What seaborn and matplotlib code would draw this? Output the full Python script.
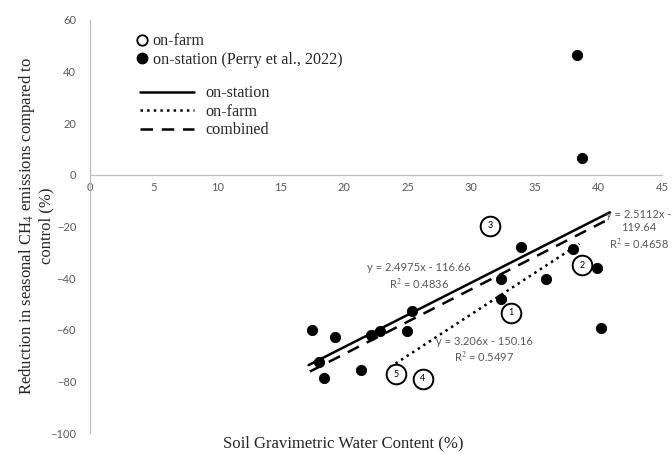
import matplotlib
matplotlib.use("Agg")
import matplotlib.pyplot as plt
import seaborn as sns
import numpy as np
import pandas as pd
from matplotlib.lines import Line2D

# on-station points (Perry et al., 2022)
station_x = [17.5, 18.0, 18.4, 19.3, 21.3, 22.1, 22.8, 24.9, 25.3, 32.3, 32.3,
             33.9, 35.9, 38.0, 38.3, 38.7, 39.9, 40.2]
station_y = [-60.0, -72.6, -78.8, -62.7, -75.7, -62.0, -60.3, -60.3, -52.6, -40.4,
             -47.9, -27.8, -40.3, -28.8, 46.5, 6.6, -36.2, -59.4]

# on-farm sites
farm_id = ["1", "2", "3", "4", "5"]
farm_x = [33.1, 38.7, 31.5, 26.2, 24.1]
farm_y = [-53.4, -35.0, -19.8, -79.0, -77.3]

# trendlines: name, slope, intercept, x start, x end, style
fit_names = ["on-station", "on-farm", "combined"]
fit_slope = [2.4975, 3.206, 2.5112]
fit_icpt = [-116.66, -150.16, -119.64]
fit_x0 = [17.2, 23.6, 17.3]
fit_x1 = [40.9, 38.5, 40.5]
fit_style = ["-", ":", (0, (5, 3.5))]

sns.set_style("white")
plt.rcParams["font.family"] = ["Liberation Serif", "DejaVu Serif"]
plt.rcParams["mathtext.fontset"] = "stix"

fig = plt.figure(figsize=(6.72, 4.54), dpi=100)
ax = fig.add_axes([90 / 672, 1 - 433 / 454, 572 / 672, 413 / 454])

grey = "#595959"
axis_grey = "#bfbfbf"

for xs0, xs1, m, b, ls in zip(fit_x0, fit_x1, fit_slope, fit_icpt, fit_style):
    xs = np.array([xs0, xs1])
    ax.plot(xs, m * xs + b, color="black", lw=1.8, linestyle=ls, zorder=2)

st = pd.DataFrame({"x": station_x, "y": station_y})
sns.scatterplot(data=st, x="x", y="y", ax=ax, color="black", s=55,
                edgecolor="black", zorder=3, legend=False)

fm = pd.DataFrame({"x": farm_x, "y": farm_y, "id": farm_id})
sns.scatterplot(data=fm, x="x", y="y", ax=ax, s=200, facecolor="white",
                edgecolor="black", linewidth=1.4, zorder=3, legend=False)
for _, r in fm.iterrows():
    ax.text(r["x"], r["y"], r["id"], ha="center", va="center", fontsize=6.5,
            family="Lato", color="black", zorder=4)

# equation labels
ax.text(25.9, -39.5, "y = 2.4975x - 116.66\nR$^2$ = 0.4836", ha="center",
        va="center", fontsize=8, color=grey, family="Lato", linespacing=1.3)
ax.text(31.0, -68.0, "y = 3.206x - 150.16\nR$^2$ = 0.5497", ha="center",
        va="center", fontsize=8, color=grey, family="Lato", linespacing=1.3)
ax.text(43.2, -21.5, "y = 2.5112x -\n119.64\nR$^2$ = 0.4658", ha="center",
        va="center", fontsize=8, color=grey, family="Lato", linespacing=1.25,
        clip_on=False)

ax.set_xlim(0, 45)
ax.set_ylim(-100, 60)
ax.set_xticks(np.arange(0, 46, 5))
ax.set_yticks(np.arange(-100, 61, 20))
for s in ["top", "right"]:
    ax.spines[s].set_visible(False)
ax.spines["bottom"].set_position(("data", 0))
ax.spines["bottom"].set_color(axis_grey)
ax.spines["left"].set_color(axis_grey)
ax.spines["bottom"].set_linewidth(0.9)
ax.spines["left"].set_linewidth(0.9)
ax.tick_params(length=0, labelsize=8, labelcolor=grey)
ax.tick_params(axis="y", pad=10)
ax.tick_params(axis="x", pad=5)
for lab in ax.get_xticklabels() + ax.get_yticklabels():
    lab.set_family("Lato")
ax.set_xlabel("")
ax.set_ylabel("")

fig.text(343 / 672, 1 - 443 / 454, "Soil Gravimetric Water Content (%)",
         ha="center", va="center", fontsize=12)
fig.text(36 / 672, 1 - 226 / 454,
         "Reduction in seasonal CH$_4$ emissions compared to\ncontrol (%)",
         ha="center", va="center", rotation=90, fontsize=12, linespacing=1.1)

mk_handles = [
    Line2D([], [], marker="o", linestyle="none", markerfacecolor="white",
           markeredgecolor="black", markeredgewidth=1.3, markersize=7.5),
    Line2D([], [], marker="o", linestyle="none", color="black", markersize=7.5),
]
leg1 = ax.legend(mk_handles, ["on-farm", "on-station (Perry et al., 2022)"],
                 loc="upper left", bbox_to_anchor=(40 / 572, 1 - 7 / 413),
                 frameon=False, fontsize=11.6, handlelength=0.7,
                 handletextpad=0.3, labelspacing=0.15, borderaxespad=0)
ax.add_artist(leg1)
ln_handles = [Line2D([], [], color="black", lw=1.8, linestyle=ls)
              for ls in fit_style]
ax.legend(ln_handles, fit_names, loc="upper left",
          bbox_to_anchor=(44 / 572, 1 - 59 / 413), frameon=False, fontsize=11.6,
          handlelength=3.3, handletextpad=0.75, labelspacing=0.15,
          borderaxespad=0)

fig.savefig("out.png", dpi=100)
